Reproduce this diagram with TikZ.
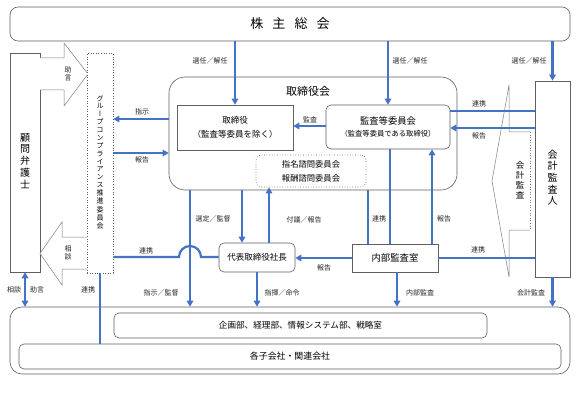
\documentclass[tikz,border=0pt]{standalone}
\usepackage{fontspec}
\setmainfont{Noto Sans CJK JP}
\newfontfamily\vfont[RawFeature=+vert]{Noto Sans CJK JP}
\usetikzlibrary{arrows.meta}
\definecolor{lineblue}{RGB}{68,114,196}
\definecolor{boxgray}{RGB}{95,95,95}
\makeatletter
\newcommand\vtxt[1]{\vbox{\offinterlineskip\@tfor\x:=#1\do{\hbox to 1em{\hss\strut\x\hss}}}}
\makeatother
\begin{document}
\begin{tikzpicture}[x=1pt,y=-1pt,
  box/.style={draw=boxgray, line width=0.6pt, fill=white, inner sep=0pt, align=center},
  rbox/.style={box, rounded corners=5pt},
  dbox/.style={box, dotted, line width=0.7pt},
  conn/.style={draw=lineblue, line width=2.2pt, -{Triangle[length=6pt,width=6.5pt]}},
  dconn/.style={draw=lineblue, line width=2.2pt, {Triangle[length=6pt,width=6.5pt]}-{Triangle[length=6pt,width=6.5pt]}},
  link/.style={draw=lineblue, line width=2.2pt},
  fat/.style={draw=boxgray!80, line width=0.5pt, fill=white},
  lab/.style={font=\fontsize{7}{8}\selectfont, text=black!85, inner sep=1pt},
  vlab/.style={font=\vfont\fontsize{7}{7.6}\selectfont, text=black!85, inner sep=0pt}]
\useasboundingbox (0,0) rectangle (588,395);
\fill[white] (0,0) rectangle (588,395);

% main boxes
\node[box, rounded corners=8pt, minimum width=560pt, minimum height=34pt, font=\fontsize{13}{15}\selectfont] (soukai) at (290,24) {株\hspace{0.7em}主\hspace{0.7em}総\hspace{0.7em}会};
\node[box, rounded corners=12pt, minimum width=560pt, minimum height=67pt] (gyomu) at (290,340.5) {};
\node[rbox, minimum width=373pt, minimum height=25pt, font=\fontsize{8.6}{10}\selectfont] (kikaku) at (300.5,325.5) {企画部、経理部、情報システム部、戦略室};
\node[rbox, minimum width=542pt, minimum height=25pt, font=\fontsize{8.9}{10}\selectfont] (kogaisha) at (290,356.5) {各子会社・関連会社};

\node[box, minimum width=30pt, minimum height=219pt, font=\fontsize{10}{11.2}\selectfont] (komon) at (25,162.5) {\vtxt{顧問弁護士}};

% fat arrows
\draw[fat] (40,58) -- (64,58) -- (64,43) -- (88,74) -- (64,106) -- (64,90) -- (40,90);
\draw[fat] (87,237) -- (62,237) -- (62,222) -- (40,253.5) -- (62,285) -- (62,269) -- (87,269);
\node[vlab] (jogen) at (68,75) {\vtxt{助言}};
\node[vlab] (sodan) at (68,254) {\vtxt{相談}};

\node[dbox, minimum width=26pt, minimum height=220pt, font=\vfont\fontsize{7}{7.8}\selectfont] (group) at (100,163) {\vtxt{グループコンプライアンス推進委員会}};

\node[box, rounded corners=16pt, minimum width=288pt, minimum height=113pt] (torikai) at (313,133.5) {};
\node[font=\fontsize{11}{12}\selectfont, inner sep=0pt] (torikaititle) at (308,91) {取締役会};
\node[box, minimum width=116pt, minimum height=45pt, font=\fontsize{8.5}{14}\selectfont] (tor) at (235,127.5) {取締役\\（監査等委員を除く）};
\node[rbox, minimum width=124pt, minimum height=44pt] (kansa) at (388,127) {\fontsize{9.3}{14}\selectfont 監査等委員会\\\fontsize{7.3}{14}\selectfont （監査等委員である取締役）};
\node[rbox, dotted, line width=0.7pt, minimum width=110pt, minimum height=32pt, font=\fontsize{8.3}{14}\selectfont] (shimei) at (311,171) {指名諮問委員会\\報酬諮問委員会};

\node[rbox, minimum width=76pt, minimum height=29pt, font=\fontsize{8.5}{10}\selectfont] (daihyo) at (257,257.5) {代表取締役社長};
\node[box, minimum width=86pt, minimum height=28pt, font=\fontsize{9.4}{10}\selectfont] (naibu) at (395,258) {内部監査室};

% 会計監査 arrow
\draw[fat] (530,230) -- (509,230) -- (509,277) -- (492,181) -- (509,85) -- (509,132) -- (530,132);
\draw[boxgray!80, line width=0.6pt, dotted] (530,132) -- (530,230);
\node[font=\vfont\fontsize{8.5}{9.6}\selectfont, inner sep=0pt] (kaikeikansa) at (520,181) {\vtxt{会計監査}};

\node[box, minimum width=35pt, minimum height=196pt, font=\fontsize{10}{11.2}\selectfont] (kaikei) at (552.5,179) {\vtxt{会計監査人}};

% connectors from shareholders
\draw[conn] (tor.north |- soukai.south) -- (tor.north);
\draw[conn] (kansa.north |- soukai.south) -- (kansa.north);
\draw[conn] (kaikei.north |- soukai.south) -- (kaikei.north);
\node[lab] at (210,61) {選任／解任};
\node[lab] at (410,61) {選任／解任};
\node[lab] at (529,61) {選任／解任};

% board <-> group compliance
\draw[conn] (torikai.west |- 0,119) -- (group.east |- 0,119);
\draw[conn] (group.east |- 0,153) -- (torikai.west |- 0,153);
\node[lab] at (142,112) {指示};
\node[lab] at (142,160) {報告};

% audit committee -> directors
\draw[conn] (kansa.west |- 0,126) -- (tor.east |- 0,126);
\node[lab] at (310,119.5) {監査};

% accounting auditor <-> audit committee
\draw[link] (kaikei.west |- 0,111) -- (kansa.east |- 0,111);
\draw[conn] (kaikei.west |- 0,128) -- (kansa.east |- 0,128);
\node[lab] at (479,104) {連携};
\node[lab] at (479,136) {報告};

% board <-> representative director
\draw[conn] (242,0 |- torikai.south) -- (242,0 |- daihyo.north);
\draw[conn] (269,0 |- daihyo.north) -- (269,0 |- shimei.south);
\node[lab] at (213,219) {選定／監督};
\node[lab] at (304,220) {付議／報告};

% internal audit links
\draw[link] (368,0 |- torikai.south) -- (368,0 |- naibu.north);
\draw[link] (390,0 |- kansa.south) -- (390,0 |- naibu.north);
\draw[conn] (432,0 |- naibu.north) -- (432,0 |- kansa.south);
\node[lab] at (379,219) {連携};
\node[lab] at (444,219) {報告};

\draw[conn] (naibu.west) -- (daihyo.east |- naibu.west);
\node[lab] at (324,268) {報告};
\draw[link] (naibu.east) -- (kaikei.west |- naibu.east);
\node[lab] at (478,250) {連携};

% to operations
\draw[conn] (397,0 |- naibu.south) -- (397,0 |- gyomu.north);
\node[lab] at (420,293) {内部監査};
\draw[conn] (kaikei.south) -- (kaikei.south |- gyomu.north);
\node[lab] at (531,293) {会計監査};
\draw[conn] (daihyo.south) -- (daihyo.south |- gyomu.north);
\node[lab] at (282,293) {指揮／命令};
\draw[conn] (190,0 |- torikai.south) -- (190,0 |- gyomu.north);
\node[lab] at (161,293) {指示／監督};

% group <-> representative director with jump
\draw[link] (group.east |- 0,257) -- (179,257) arc[start angle=180, end angle=360, radius=11] -- (daihyo.west |- 0,257);
\node[lab] at (146,251) {連携};

% group -> subsidiaries
\draw[link] (group.south) -- (group.south |- kogaisha.north);
\node[lab] at (88,290) {連携};

% lawyer <-> operations
\draw[dconn] (komon.south) -- (komon.south |- gyomu.north);
\node[lab] at (14,290) {相談};
\node[lab] at (37,290) {助言};
\end{tikzpicture}
\end{document}
